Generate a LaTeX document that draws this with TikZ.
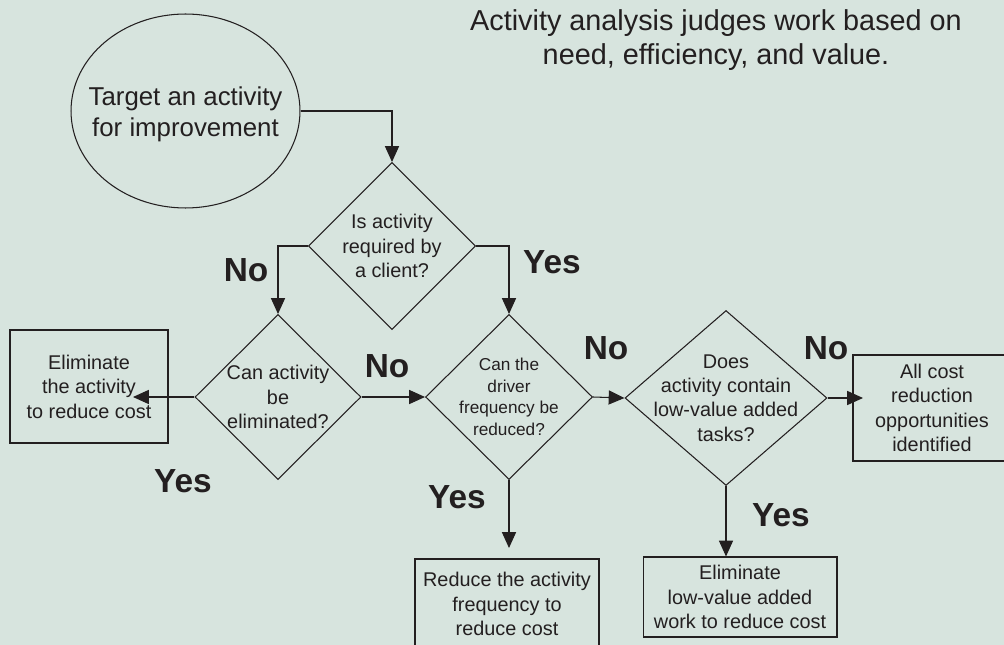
\documentclass[tikz,border=0pt]{standalone}
\usepackage{fontspec}
\setmainfont{Liberation Sans}
\usetikzlibrary{arrows.meta,shapes.geometric}
\definecolor{Paper}{HTML}{D7E4DE}
\definecolor{Ink}{HTML}{231F20}
\newcommand{\ttlfont}{\fontsize{16.4}{19.3}\selectfont}
\newcommand{\elfont}{\fontsize{14.7}{17.6}\selectfont}
\newcommand{\bxfont}{\fontsize{11.3}{13.9}\selectfont}
\newcommand{\smfont}{\fontsize{9.8}{12.3}\selectfont}
\newcommand{\ynfont}{\fontsize{19}{22}\selectfont\bfseries}

\begin{document}
\begin{tikzpicture}[x=.02cm,y=-.02cm,>={Triangle[length=9pt,width=8pt]},line width=.6pt,color=Ink,
    dia/.style={draw,diamond,inner sep=0pt},
    dtxt/.style={font=\bxfont,align=center},
    box/.style={draw,rectangle,inner sep=0pt,font=\bxfont,align=center},
    yn/.style={font=\ynfont}]
  \fill[Paper] (0,0) rectangle (1004,645);
  \clip (0,0) rectangle (1004,645);
  \node[font=\ttlfont,align=center] (ttl) at (716,40) {Activity analysis judges work based on\\need, efficiency, and value.};
  % start and questions
  \node[draw,ellipse,inner sep=0pt,minimum width=4.58cm,minimum height=3.88cm,label={[font=\elfont,align=center,yshift=-2pt]center:{Target an activity\\for improvement}}] (tgt) at (185.5,111) {};
  \node[dia,minimum width=3.34cm,minimum height=3.34cm,label={[dtxt]center:{Is activity\\required by\\a client?}}] (req) at (392,246) {};
  \node[dia,minimum width=3.32cm,minimum height=3.3cm,label={[dtxt]center:{Can activity\\be\\eliminated?}}] (elim) at (278,397) {};
  \node[dia,minimum width=3.34cm,minimum height=3.3cm,label={[font=\smfont,align=center]center:{Can the\\driver\\frequency be\\reduced?}}] (freq) at (509,397) {};
  \node[dia,minimum width=4.04cm,minimum height=3.5cm,label={[dtxt]center:{Does\\activity contain\\low-value added\\tasks?}}] (lowv) at (726,398) {};
  % outcomes
  \node[box,minimum width=3.16cm,minimum height=2.26cm] (elb) at (89,386.5) {Eliminate\\the activity\\to reduce cost};
  \node[box,minimum width=3.68cm,minimum height=1.8cm] (redf) at (507,604) {Reduce the activity\\frequency to\\reduce cost};
  \node[box,minimum width=3.88cm,minimum height=1.6cm] (elw) at (740,597) {Eliminate\\low-value added\\work to reduce cost};
  \node[box,minimum width=3.16cm,minimum height=2.12cm] (allid) at (932,408) {All cost\\reduction\\opportunities\\identified};
  \coordinate (elbtip) at (133,397);
  \coordinate (alltip) at (863,398);
  \coordinate (redtip) at (509,548);
  % flow
  \draw[->] (tgt.east) -| (req.north);
  \draw[->] (req.west) -| (elim.north);
  \draw[->] (req.east) -| (freq.north);
  \draw[->] (elim.west) -- (elbtip);
  \draw[->] (elim.east) -- (freq.west);
  \draw[->] (freq.east) -- (lowv.west);
  \draw[->] (lowv.east) -- (alltip);
  \draw[->] (freq.south) -- (redtip);
  \draw[->] (lowv.south) -- (lowv.south |- elw.north);
  % answers
  \node[yn] (no1) at (246,270) {No};
  \node[yn] (yes1) at (552,262) {Yes};
  \node[yn] (no2) at (387,366) {No};
  \node[yn] (yes2) at (183,481) {Yes};
  \node[yn] (yes3) at (457,497) {Yes};
  \node[yn] (no3) at (606,348) {No};
  \node[yn] (no4) at (826,348) {No};
  \node[yn] (yes4) at (781,515) {Yes};
\end{tikzpicture}
\end{document}
